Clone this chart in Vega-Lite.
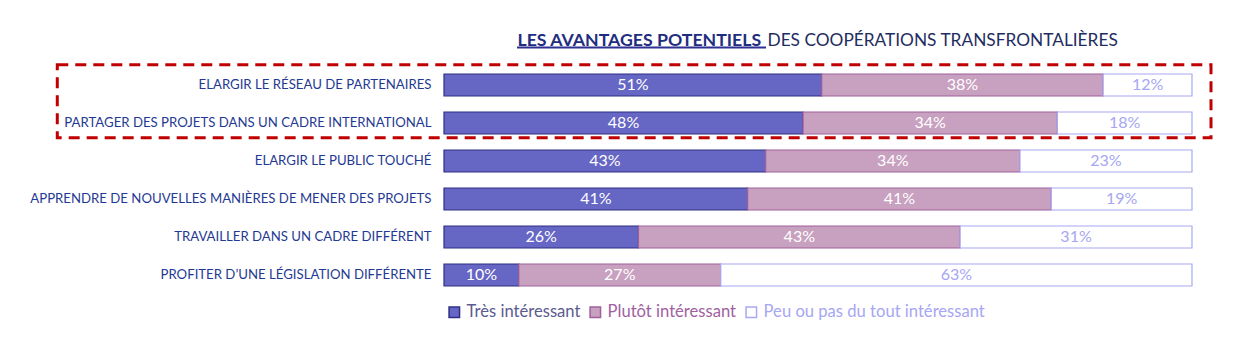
{
  "$schema": "https://vega.github.io/schema/vega-lite/v6.json",
  "width": 748,
  "height": 228,
  "autosize": {"type": "none"},
  "padding": {"left": 444, "top": 66, "right": 45, "bottom": 50},
  "background": "white",
  "config": {"view": {"stroke": null}, "font": "Lato"},
  "data": {
    "values": [
      {"item": "ELARGIR LE RÉSEAU DE PARTENAIRES", "cat": "Très intéressant", "rang": 1, "value": 51},
      {"item": "ELARGIR LE RÉSEAU DE PARTENAIRES", "cat": "Plutôt intéressant", "rang": 2, "value": 38},
      {"item": "ELARGIR LE RÉSEAU DE PARTENAIRES", "cat": "Peu ou pas du tout intéressant", "rang": 3, "value": 12},
      {"item": "PARTAGER DES PROJETS DANS UN CADRE INTERNATIONAL", "cat": "Très intéressant", "rang": 1, "value": 48},
      {"item": "PARTAGER DES PROJETS DANS UN CADRE INTERNATIONAL", "cat": "Plutôt intéressant", "rang": 2, "value": 34},
      {"item": "PARTAGER DES PROJETS DANS UN CADRE INTERNATIONAL", "cat": "Peu ou pas du tout intéressant", "rang": 3, "value": 18},
      {"item": "ELARGIR LE PUBLIC TOUCHÉ", "cat": "Très intéressant", "rang": 1, "value": 43},
      {"item": "ELARGIR LE PUBLIC TOUCHÉ", "cat": "Plutôt intéressant", "rang": 2, "value": 34},
      {"item": "ELARGIR LE PUBLIC TOUCHÉ", "cat": "Peu ou pas du tout intéressant", "rang": 3, "value": 23},
      {"item": "APPRENDRE DE NOUVELLES MANIÈRES DE MENER DES PROJETS", "cat": "Très intéressant", "rang": 1, "value": 41},
      {"item": "APPRENDRE DE NOUVELLES MANIÈRES DE MENER DES PROJETS", "cat": "Plutôt intéressant", "rang": 2, "value": 41},
      {"item": "APPRENDRE DE NOUVELLES MANIÈRES DE MENER DES PROJETS", "cat": "Peu ou pas du tout intéressant", "rang": 3, "value": 19},
      {"item": "TRAVAILLER DANS UN CADRE DIFFÉRENT", "cat": "Très intéressant", "rang": 1, "value": 26},
      {"item": "TRAVAILLER DANS UN CADRE DIFFÉRENT", "cat": "Plutôt intéressant", "rang": 2, "value": 43},
      {"item": "TRAVAILLER DANS UN CADRE DIFFÉRENT", "cat": "Peu ou pas du tout intéressant", "rang": 3, "value": 31},
      {"item": "PROFITER D’UNE LÉGISLATION DIFFÉRENTE", "cat": "Très intéressant", "rang": 1, "value": 10},
      {"item": "PROFITER D’UNE LÉGISLATION DIFFÉRENTE", "cat": "Plutôt intéressant", "rang": 2, "value": 27},
      {"item": "PROFITER D’UNE LÉGISLATION DIFFÉRENTE", "cat": "Peu ou pas du tout intéressant", "rang": 3, "value": 63}
    ]
  },
  "layer": [
    {
      "mark": {"type": "bar", "height": {"band": 0.58}, "strokeWidth": 1.2},
      "encoding": {
        "y": {
          "field": "item", "type": "nominal", "sort": null,
          "scale": {
            "domain": ["ELARGIR LE RÉSEAU DE PARTENAIRES", "PARTAGER DES PROJETS DANS UN CADRE INTERNATIONAL", "ELARGIR LE PUBLIC TOUCHÉ", "APPRENDRE DE NOUVELLES MANIÈRES DE MENER DES PROJETS", "TRAVAILLER DANS UN CADRE DIFFÉRENT", "PROFITER D’UNE LÉGISLATION DIFFÉRENTE"],
            "paddingInner": 0, "paddingOuter": 0
          },
          "axis": {
            "title": "LES AVANTAGES POTENTIELS",
            "titleAngle": 0, "titleAlign": "left", "titleBaseline": "alphabetic",
            "titleX": 73, "titleY": -20.6,
            "titleFont": "Lato", "titleFontSize": 17.7, "titleFontWeight": "bold", "titleColor": "#1f2d80",
            "labelFont": "Lato", "labelFontSize": 13.2, "labelColor": "#1f3a93",
            "labelLimit": 0, "labelPadding": 13, "ticks": false, "domain": false, "grid": false
          }
        },
        "x": {
          "field": "value", "type": "quantitative", "stack": "normalize",
          "scale": {"domain": [0, 1], "nice": false},
          "axis": {
            "orient": "top", "title": "DES COOPÉRATIONS TRANSFRONTALIÈRES",
            "labels": false, "ticks": false, "domain": false, "grid": false,
            "titleX": 323, "titleY": -20.6, "titleAlign": "left", "titleBaseline": "alphabetic",
            "titleFont": "Lato", "titleFontSize": 17.3, "titleFontWeight": "normal", "titleColor": "#1f2d5f"
          }
        },
        "order": {"field": "rang", "type": "quantitative"},
        "color": {
          "field": "cat", "type": "nominal",
          "scale": {"domain": ["Très intéressant", "Plutôt intéressant", "Peu ou pas du tout intéressant"], "range": ["#6666c4", "#c8a0c0", "#ffffff"]},
          "legend": {
            "title": null, "orient": "none", "legendX": 2, "legendY": 238, "direction": "horizontal",
            "symbolType": "square", "symbolSize": 110, "symbolStrokeWidth": 1.5,
            "labelFont": "Lato", "labelFontSize": 16.6, "labelLimit": 0, "columnPadding": 6, "labelOffset": 4,
            "labelColor": {"expr": "datum.label == 'Très intéressant' ? '#5b5b8f' : datum.label == 'Plutôt intéressant' ? '#a0609f' : '#a6a6f2'"}
          }
        },
        "stroke": {
          "field": "cat", "type": "nominal",
          "scale": {"domain": ["Très intéressant", "Plutôt intéressant", "Peu ou pas du tout intéressant"], "range": ["#2e2e86", "#a0609c", "#a8a8f5"]},
          "legend": {
            "title": null, "orient": "none", "legendX": 2, "legendY": 238, "direction": "horizontal",
            "symbolType": "square", "symbolSize": 110, "symbolStrokeWidth": 1.5,
            "labelFont": "Lato", "labelFontSize": 16.6, "labelLimit": 0, "columnPadding": 6, "labelOffset": 4,
            "labelColor": {"expr": "datum.label == 'Très intéressant' ? '#5b5b8f' : datum.label == 'Plutôt intéressant' ? '#a0609f' : '#a6a6f2'"}
          }
        }
      }
    },
    {
      "mark": {"type": "text", "font": "Lato", "fontSize": 16, "text": {"expr": "datum.value + '%'"}},
      "encoding": {
        "y": {"field": "item", "type": "nominal", "sort": null},
        "x": {"field": "value", "type": "quantitative", "stack": "normalize", "bandPosition": 0.5},
        "order": {"field": "rang", "type": "quantitative"},
        "detail": {"field": "cat"},
        "color": {"condition": {"test": "datum.cat == 'Peu ou pas du tout intéressant'", "value": "#a6a6f2"}, "value": "white"}
      }
    },
    {
      "data": {"values": [{"zone": "encadré"}]},
      "mark": {"type": "rect", "filled": false, "stroke": "#c00000", "strokeWidth": 3, "strokeDash": [11, 7]},
      "encoding": {
        "x": {"datum": -0.517, "type": "quantitative"},
        "x2": {"datum": 1.0254},
        "y": {"datum": "ELARGIR LE RÉSEAU DE PARTENAIRES", "type": "nominal", "bandPosition": -0.03},
        "y2": {"datum": "PARTAGER DES PROJETS DANS UN CADRE INTERNATIONAL", "bandPosition": 0.89}
      }
    },
    {
      "data": {"values": [{"zone": "soulignement"}]},
      "mark": {"type": "rule", "stroke": "#2e3192", "strokeWidth": 2},
      "encoding": {
        "x": {"datum": 0.0976, "type": "quantitative"},
        "x2": {"datum": 0.4305},
        "y": {"datum": "ELARGIR LE RÉSEAU DE PARTENAIRES", "type": "nominal", "bandPosition": -0.49}
      }
    }
  ]
}
